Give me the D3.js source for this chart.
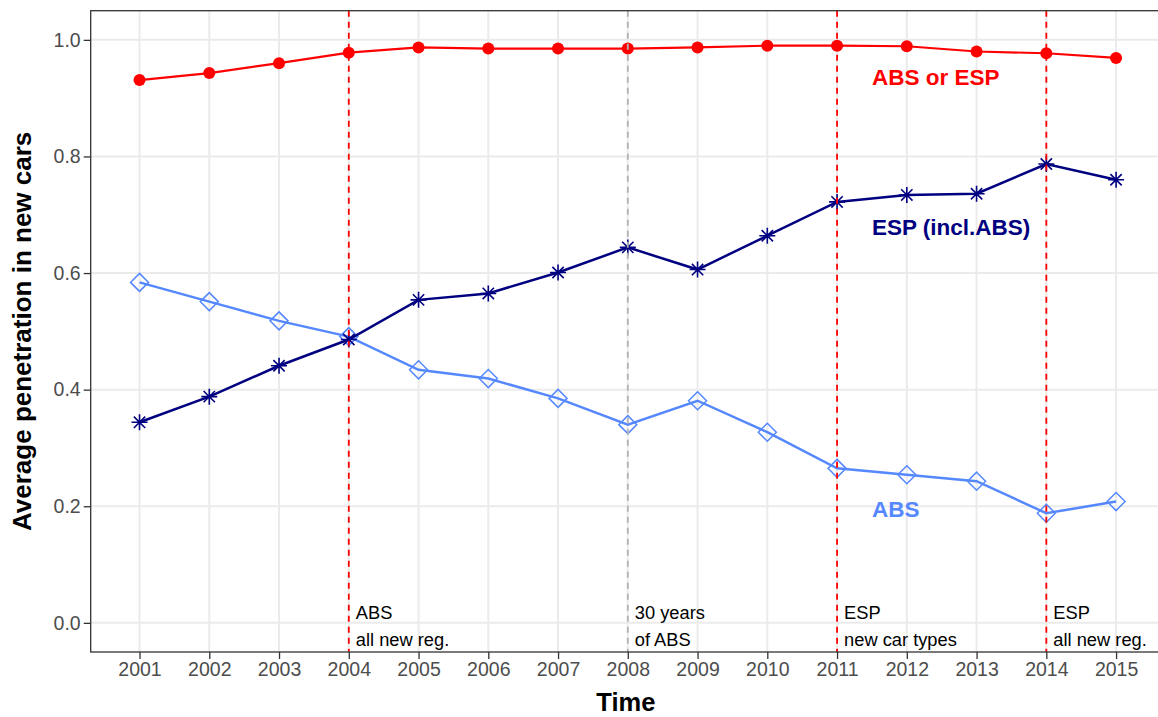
<!DOCTYPE html>
<html>
<head>
<meta charset="utf-8">
<script src="https://cdn.jsdelivr.net/npm/d3@7"></script>
<style>
  html, body { margin: 0; padding: 0; background: #fff; }
  svg { display: block; font-family: "Liberation Sans", Arial, sans-serif; }
</style>
</head>
<body>
<svg id="chart" width="1158" height="717"></svg>
<script>
const years = [2001,2002,2003,2004,2005,2006,2007,2008,2009,2010,2011,2012,2013,2014,2015];
const absOrEsp = [0.931,0.943,0.960,0.978,0.987,0.985,0.985,0.985,0.987,0.990,0.990,0.989,0.980,0.977,0.969];
const espInclAbs = [0.344,0.388,0.441,0.486,0.554,0.565,0.601,0.644,0.606,0.664,0.722,0.734,0.736,0.787,0.760];
const absOnly = [0.584,0.551,0.518,0.491,0.434,0.419,0.385,0.340,0.381,0.327,0.265,0.254,0.243,0.188,0.208];
const yTicks = [0.0,0.2,0.4,0.6,0.8,1.0];
const events = [
  {year: 2004, lines: ["ABS", "all new reg."], color: "#FF0000"},
  {year: 2008, lines: ["30 years", "of ABS"], color: "#B3B3B3"},
  {year: 2011, lines: ["ESP", "new car types"], color: "#FF0000"},
  {year: 2014, lines: ["ESP", "all new reg."], color: "#FF0000"}
];
const seriesLabels = [
  {text: "ABS or ESP", color: "#FF0000", x: 2011.5, y: 0.923},
  {text: "ESP (incl.ABS)", color: "#000080", x: 2011.5, y: 0.666},
  {text: "ABS", color: "#5588FF", x: 2011.5, y: 0.182}
];

(function () {
const svg = d3.select("#chart");
const pL = 90.7, pR = 1164.9, pT = 10.7, pB = 652;
const x = d3.scaleLinear().domain([2000.3, 2015.7]).range([pL, pR]);
const y = d3.scaleLinear().domain([-0.05, 1.05]).range([pB, pT]);

// grid
const grid = svg.append("g");
grid.selectAll(".gy").data(yTicks).enter().append("line")
  .attr("x1", pL).attr("x2", pR).attr("y1", d => y(d)).attr("y2", d => y(d))
  .attr("stroke", "#EBEBEB").attr("stroke-width", 2);
grid.selectAll(".gx").data(years).enter().append("line")
  .attr("y1", pT).attr("y2", pB).attr("x1", d => x(d)).attr("x2", d => x(d))
  .attr("stroke", "#EBEBEB").attr("stroke-width", 2);

const line = d3.line().x(d => x(d[0])).y(d => y(d[1]));

// ABS (light blue)
const absData = years.map((yr, i) => [yr, absOnly[i]]);
svg.append("path").datum(absData).attr("d", line).attr("fill", "none")
  .attr("stroke", "#5588FF").attr("stroke-width", 2.5);
svg.append("g").selectAll("path").data(absData).enter().append("path")
  .attr("d", d => { const cx = x(d[0]), cy = y(d[1]), r = 9;
    return `M${cx},${cy-r}L${cx+r},${cy}L${cx},${cy+r}L${cx-r},${cy}Z`; })
  .attr("fill", "none").attr("stroke", "#5588FF").attr("stroke-width", 1.5);

// ESP (navy)
const espData = years.map((yr, i) => [yr, espInclAbs[i]]);
svg.append("path").datum(espData).attr("d", line).attr("fill", "none")
  .attr("stroke", "#000080").attr("stroke-width", 2.5);
svg.append("g").selectAll("path").data(espData).enter().append("path")
  .attr("d", d => { const cx = x(d[0]), cy = y(d[1]), r = 8, q = r * 0.7071;
    return `M${cx-r},${cy}L${cx+r},${cy}M${cx},${cy-r}L${cx},${cy+r}` +
           `M${cx-q},${cy-q}L${cx+q},${cy+q}M${cx-q},${cy+q}L${cx+q},${cy-q}`; })
  .attr("fill", "none").attr("stroke", "#000080").attr("stroke-width", 1.6);

// ABS or ESP (red)
const anyData = years.map((yr, i) => [yr, absOrEsp[i]]);
svg.append("path").datum(anyData).attr("d", line).attr("fill", "none")
  .attr("stroke", "#FF0000").attr("stroke-width", 2.2);
svg.append("g").selectAll("circle").data(anyData).enter().append("circle")
  .attr("cx", d => x(d[0])).attr("cy", d => y(d[1])).attr("r", 6)
  .attr("fill", "#FF0000");

// event lines
svg.append("g").selectAll("line").data(events).enter().append("line")
  .attr("x1", d => x(d.year)).attr("x2", d => x(d.year))
  .attr("y1", pT).attr("y2", pB)
  .attr("stroke", d => d.color).attr("stroke-width", 1.8)
  .attr("stroke-dasharray", "6,5");
const ev = svg.append("g").selectAll("text").data(events).enter().append("text")
  .attr("font-size", 18.3).attr("fill", "#000");
ev.each(function(d) {
  const t = d3.select(this);
  d.lines.forEach((s, i) => t.append("tspan").attr("x", x(d.year) + 7).attr("y", 619 + i * 27).text(s));
});

// series labels
svg.append("g").selectAll("text").data(seriesLabels).enter().append("text")
  .attr("x", d => x(d.x)).attr("y", d => y(d.y))
  .attr("font-size", 22.5).attr("font-weight", "bold").attr("fill", d => d.color)
  .text(d => d.text);

// panel border
svg.append("rect").attr("x", pL).attr("y", pT).attr("width", pR - pL).attr("height", pB - pT)
  .attr("fill", "none").attr("stroke", "#333333").attr("stroke-width", 1.3);

// axes
const yAxis = svg.append("g").attr("transform", `translate(${pL},0)`)
  .call(d3.axisLeft(y).tickValues(yTicks).tickFormat(d3.format(".1f")).tickSize(7).tickPadding(3));
const xAxis = svg.append("g").attr("transform", `translate(0,${pB})`)
  .call(d3.axisBottom(x).tickValues(years).tickFormat(d3.format("d")).tickSize(7).tickPadding(3));
[yAxis, xAxis].forEach(a => {
  a.select(".domain").remove();
  a.selectAll(".tick line").attr("stroke", "#333333").attr("stroke-width", 1.3);
  a.selectAll(".tick text").attr("fill", "#4D4D4D").attr("font-size", 19.5)
    .attr("font-family", "'Liberation Sans', Arial, sans-serif");
});

// titles
svg.append("text").attr("x", (pL + pR) / 2 - 2).attr("y", 711)
  .attr("text-anchor", "middle").attr("font-size", 25.5).attr("font-weight", "bold")
  .text("Time");
svg.append("text").attr("transform", `translate(31,${(pT + pB) / 2}) rotate(-90)`)
  .attr("text-anchor", "middle").attr("font-size", 26).attr("font-weight", "bold")
  .text("Average penetration in new cars");
})();
</script>
</body>
</html>
